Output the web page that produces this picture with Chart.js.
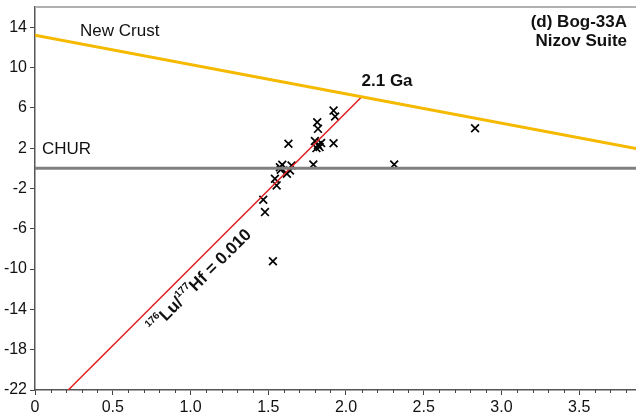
<!DOCTYPE html>
<html>
<head>
<meta charset="utf-8">
<script src="https://cdn.jsdelivr.net/npm/chart.js@4.4.0/dist/chart.umd.min.js"></script>
<style>
  html, body { margin: 0; padding: 0; background: #fff; overflow: hidden; }
  #grafico { width: 636px; height: 415px; }
  #epsilon_hf { display: block; }
</style>
</head>
<body>
<div id="grafico"><canvas id="epsilon_hf" width="636" height="415"></canvas></div>
<script>
/* dados do gráfico: idade (Ga) x epsilon Hf */
const amostraX = [1.92, 1.93, 1.815, 1.82, 1.63, 1.92, 1.80, 1.82, 1.84, 1.83, 1.81, 1.79,
    1.575, 1.59, 1.58, 1.65, 1.64, 1.62, 1.543, 1.554, 1.468, 1.479, 1.53, 2.31, 2.83];
const amostraY = [5.72, 5.13, 4.56, 3.91, 2.43, 2.49, 2.7, 2.3, 2.5, 2.1, 2.0, 0.38,
    0.1, 0.35, -0.15, 0.28, -0.22, -0.55, -1.04, -1.7, -3.12, -4.35, -9.23, 0.38, 3.97];

const crostaX = [0, 3.865];
const crostaY = [13.2, 1.95];

const churX = [0, 3.865];
const churY = [0, 0];

const luhfX = [0.214, 2.1];
const luhfY = [-22, 7.07];

const ticksX = [0, 0.5, 1.0, 1.5, 2.0, 2.5, 3.0, 3.5];
const ticksY = [-22, -18, -14, -10, -6, -2, 2, 6, 10, 14];

function pares(xs, ys) {
    return xs.map(function (x, i) { return { x: x, y: ys[i] }; });
}

const fonte = 'Liberation Sans, Arial, sans-serif';

// textos e marcas menores do eixo x
const extras = {
    id: 'extras',
    afterDraw(chart) {
        const ctx = chart.ctx;
        const sx = chart.scales.x;
        const sy = chart.scales.y;
        const area = chart.chartArea;
        ctx.save();

        // borda superior
        ctx.strokeStyle = '#b0b0b0';
        ctx.lineWidth = 2;
        ctx.beginPath();
        ctx.moveTo(area.left, area.top);
        ctx.lineTo(area.right, area.top);
        ctx.stroke();

        // ticks menores
        ctx.strokeStyle = '#444';
        ctx.lineWidth = 1;
        for (let k = 1; k <= 38; k++) {
            if (k % 5 === 0) continue;
            const px = Math.round(sx.getPixelForValue(k / 10)) + 0.5;
            ctx.beginPath();
            ctx.moveTo(px, area.bottom);
            ctx.lineTo(px, area.bottom + 3);
            ctx.stroke();
        }

        ctx.fillStyle = '#111';
        ctx.textBaseline = 'middle';
        ctx.font = '17px ' + fonte;
        ctx.textAlign = 'left';
        ctx.fillText('New Crust', sx.getPixelForValue(0.29), sy.getPixelForValue(13.6));
        ctx.fillText('CHUR', sx.getPixelForValue(0.045), sy.getPixelForValue(1.9));

        ctx.font = 'bold 17px ' + fonte;
        ctx.textAlign = 'right';
        ctx.fillText('(d) Bog-33A', area.right - 9, sy.getPixelForValue(14.5));
        ctx.fillText('Nizov Suite', area.right - 9, sy.getPixelForValue(12.6));
        ctx.textAlign = 'left';
        ctx.fillText('2.1 Ga', sx.getPixelForValue(2.1), sy.getPixelForValue(8.6));

        // rótulo girado ao longo da linha vermelha
        const p0x = sx.getPixelForValue(luhfX[0]), p0y = sy.getPixelForValue(luhfY[0]);
        const p1x = sx.getPixelForValue(luhfX[1]), p1y = sy.getPixelForValue(luhfY[1]);
        const ang = Math.atan2(p1y - p0y, p1x - p0x);
        const partes = [
            ['176', 'bold 10px ', -6],
            ['Lu/', 'bold 17px ', 0],
            ['177', 'bold 10px ', -6],
            ['Hf = 0.010', 'bold 17px ', 0]
        ];
        let total = 0;
        partes.forEach(function (p) { ctx.font = p[1] + fonte; total += ctx.measureText(p[0]).width; });
        ctx.translate(sx.getPixelForValue(1.06), sy.getPixelForValue(-11.2));
        ctx.rotate(ang);
        let pos = -total / 2;
        partes.forEach(function (p) {
            ctx.font = p[1] + fonte;
            ctx.fillText(p[0], pos, p[2]);
            pos += ctx.measureText(p[0]).width;
        });
        ctx.restore();
    }
};

const dados = {
    datasets: [{
        label: 'New Crust',
        data: pares(crostaX, crostaY),
        showLine: true,
        borderColor: 'rgb(245, 185, 0)',
        borderWidth: 3,
        pointRadius: 0
    },
    {
        label: 'CHUR',
        data: pares(churX, churY),
        showLine: true,
        borderColor: 'rgb(128, 128, 128)',
        borderWidth: 3,
        pointRadius: 0
    },
    {
        label: 'Lu/Hf',
        data: pares(luhfX, luhfY),
        showLine: true,
        borderColor: 'rgb(225, 30, 30)',
        borderWidth: 1.5,
        pointRadius: 0
    },
    {
        label: 'Bog-33A',
        data: pares(amostraX, amostraY),
        pointStyle: 'crossRot',
        pointRadius: 5.5,
        borderColor: '#000',
        borderWidth: 1.7
    }]
};

const config = {
    type: 'scatter',
    data: dados,
    options: {
        responsive: false,
        animation: false,
        layout: { autoPadding: false, padding: { top: 7, right: 0, left: 0, bottom: 0 } },
        plugins: { legend: { display: false }, tooltip: { enabled: false } },
        scales: {
            x: {
                min: 0,
                max: 3.865,
                afterBuildTicks: function (scale) {
                    scale.ticks = ticksX.map(function (v) { return { value: v }; });
                },
                afterFit: function (scale) {
                    scale.height = 25;
                    scale.paddingLeft = 0;
                    scale.paddingRight = 0;
                },
                ticks: {
                    autoSkip: false,
                    maxRotation: 0,
                    padding: 3,
                    color: '#111',
                    font: { family: fonte, size: 16 },
                    callback: function (v) { return v === 0 ? '0' : v.toFixed(1); }
                },
                grid: { drawOnChartArea: false, tickLength: 5, tickColor: '#444' },
                border: { color: '#555', width: 1.5 }
            },
            y: {
                min: -22,
                max: 16,
                afterBuildTicks: function (scale) {
                    scale.ticks = ticksY.map(function (v) { return { value: v }; });
                },
                afterFit: function (scale) {
                    scale.width = 35;
                    scale.paddingTop = 0;
                    scale.paddingBottom = 0;
                },
                ticks: {
                    autoSkip: false,
                    padding: 3,
                    color: '#111',
                    font: { family: fonte, size: 16 }
                },
                grid: { drawOnChartArea: false, tickLength: 5, tickColor: '#444' },
                border: { color: '#555', width: 1.5 }
            }
        }
    },
    plugins: [extras]
};

const grafico = new Chart(document.getElementById('epsilon_hf'), config);
</script>
</body>
</html>
